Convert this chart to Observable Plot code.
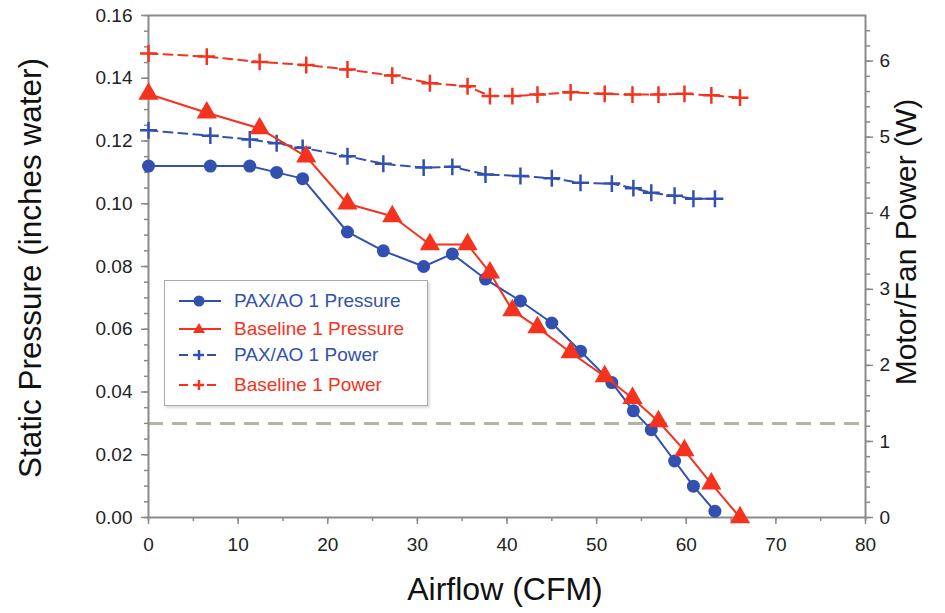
<!DOCTYPE html>
<html>
<head>
<meta charset="utf-8">
<script src="https://cdn.jsdelivr.net/npm/d3@7"></script>
<script src="https://cdn.jsdelivr.net/npm/@observablehq/plot@0.6"></script>
<style>
  html, body { margin: 0; padding: 0; background: #fff; }
  #wrap { position: relative; width: 945px; height: 613px; font-family: "Liberation Sans", Arial, sans-serif; }
  .ttl { position: absolute; color: #111; white-space: nowrap; font-size: 31px; }
  #legend { position: absolute; left: 164px; top: 280px; width: 262px; height: 124px; border: 1.5px solid #aaa; background: #fff; box-shadow: 2px 2px 2px #ddd; }
  .li { position: absolute; left: 12px; height: 22px; display: flex; align-items: center; font-size: 19px; }
  .li svg { margin-right: 11px; }
</style>
</head>
<body>
<div id="wrap"></div>
<script>
// Airflow (CFM)
const airflowPAX  = [0, 6.9, 11.3, 14.3, 17.2, 22.2, 26.2, 30.7, 33.9, 37.6, 41.5, 45.0, 48.2, 51.7, 54.1, 56.1, 58.7, 60.8, 63.2];
const pressurePAX = [0.112, 0.112, 0.112, 0.110, 0.108, 0.091, 0.085, 0.080, 0.084, 0.076, 0.069, 0.062, 0.053, 0.043, 0.034, 0.028, 0.018, 0.010, 0.002];
const powerPAX    = [5.09, 5.02, 4.97, 4.92, 4.86, 4.75, 4.65, 4.60, 4.61, 4.51, 4.49, 4.46, 4.40, 4.39, 4.33, 4.27, 4.23, 4.19, 4.19];

const airflowBase  = [0, 6.5, 12.4, 17.6, 22.2, 27.2, 31.4, 35.6, 38.1, 40.6, 43.4, 47.1, 50.9, 54.0, 56.9, 59.8, 62.8, 66.0];
const pressureBase = [0.135, 0.129, 0.124, 0.115, 0.100, 0.096, 0.087, 0.087, 0.078, 0.066, 0.0606, 0.0526, 0.045, 0.038, 0.0306, 0.0214, 0.0108, 0.000];
const powerBase    = [6.10, 6.06, 5.99, 5.95, 5.89, 5.81, 5.71, 5.67, 5.54, 5.54, 5.56, 5.59, 5.57, 5.56, 5.56, 5.57, 5.55, 5.52];

const refPressure = 0.03;
const xTicks = [0, 10, 20, 30, 40, 50, 60, 70, 80];
const yTicks = [0, 0.02, 0.04, 0.06, 0.08, 0.10, 0.12, 0.14, 0.16];
const wTicks = [0, 1, 2, 3, 4, 5, 6];

const seriesNames = ["PAX/AO 1 Pressure", "Baseline 1 Pressure", "PAX/AO 1 Power", "Baseline 1 Power"];
const BLUE = "#3150b0", RED = "#f4321e", AXIS = "#8a8a8a", TXT = "#222";

const yMax = 0.16, wMax = 6.6, k = yMax / wMax; // power -> pressure scale factor

const pax = airflowPAX.map((x, i) => ({x, p: pressurePAX[i], w: powerPAX[i] * k}));
const base = airflowBase.map((x, i) => ({x, p: pressureBase[i], w: powerBase[i] * k}));

const chart = Plot.plot({
  width: 945, height: 613,
  marginLeft: 148, marginRight: 80, marginTop: 15, marginBottom: 96,
  style: {fontFamily: "'Liberation Sans', Arial, sans-serif", fontSize: "19px", color: TXT, background: "#fff"},
  x: {domain: [0, 80]},
  y: {domain: [0, yMax]},
  marks: [
    Plot.ruleY([refPressure], {stroke: "#b4b4a6", strokeWidth: 3, strokeDasharray: "15,9"}),
    // minor ticks
    Plot.axisX({ticks: d3.range(0, 80.1, 5), tickSize: 4, text: null, stroke: AXIS, strokeWidth: 1.5, anchor: "bottom", label: null}),
    Plot.axisY({ticks: d3.range(0, 0.1601, 0.005), tickSize: 4, text: null, stroke: AXIS, strokeWidth: 1.5, anchor: "left", label: null}),
    Plot.axisY({ticks: d3.range(0, 6.51, 0.2).map(w => w * k), tickSize: 4, text: null, stroke: AXIS, strokeWidth: 1.5, anchor: "right", label: null}),
    // major ticks
    Plot.axisX({ticks: xTicks, tickSize: 7, tickPadding: 13, tickFormat: d => d, stroke: AXIS, strokeWidth: 1.5, fill: TXT, fontSize: 19, anchor: "bottom", label: null}),
    Plot.axisY({ticks: yTicks, tickSize: 7, tickPadding: 9, tickFormat: d3.format(".2f"), stroke: AXIS, strokeWidth: 1.5, fill: TXT, fontSize: 19, anchor: "left", label: null}),
    Plot.axisY({ticks: wTicks.map(w => w * k), tickSize: 7, tickPadding: 7, tickFormat: d => Math.round(d / k), stroke: AXIS, strokeWidth: 1.5, fill: TXT, fontSize: 19, anchor: "right", label: null}),
    Plot.frame({stroke: AXIS, strokeWidth: 2}),
    // power lines
    Plot.line(base, {x: "x", y: "w", stroke: RED, strokeWidth: 2, strokeDasharray: "9,6"}),
    Plot.dot(base, {x: "x", y: "w", symbol: "plus", stroke: RED, strokeWidth: 2.5, r: 5.5}),
    Plot.line(pax, {x: "x", y: "w", stroke: BLUE, strokeWidth: 2, strokeDasharray: "9,6"}),
    Plot.dot(pax, {x: "x", y: "w", symbol: "plus", stroke: BLUE, strokeWidth: 2.5, r: 5.5}),
    // pressure lines
    Plot.line(pax, {x: "x", y: "p", stroke: BLUE, strokeWidth: 2}),
    Plot.dot(pax, {x: "x", y: "p", symbol: "circle", fill: BLUE, r: 6.5}),
    Plot.line(base, {x: "x", y: "p", stroke: RED, strokeWidth: 2}),
    Plot.dot(base, {x: "x", y: "p", symbol: "triangle", fill: RED, r: 7.5})
  ]
});

const wrap = document.getElementById("wrap");
wrap.appendChild(chart);

function addText(txt, style) {
  const d = document.createElement("div");
  d.className = "ttl";
  d.textContent = txt;
  Object.assign(d.style, style);
  wrap.appendChild(d);
}
addText("Airflow (CFM)", {left: "0px", width: "1010px", textAlign: "center", top: "571px", fontSize: "32px"});
addText("Static Pressure (inches water)", {left: "30px", top: "268px", fontSize: "31.5px", transform: "translate(-50%,-50%) rotate(-90deg)"});
addText("Motor/Fan Power (W)", {left: "906px", top: "242px", fontSize: "30px", transform: "translate(-50%,-50%) rotate(-90deg)"});

// legend
const legend = document.createElement("div");
legend.id = "legend";
const sym = {
  0: `<circle cx="22" cy="11" r="5.5" fill="${BLUE}"/>`,
  1: `<path d="M22,5 L28,15 L16,15 Z" fill="${RED}"/>`,
  2: `<path d="M22,6 V16 M17,11 H27" stroke="${BLUE}" stroke-width="2.5"/>`,
  3: `<path d="M22,6 V16 M17,11 H27" stroke="${RED}" stroke-width="2.5"/>`
};
const tops = [9, 37, 63, 93];
seriesNames.forEach((name, i) => {
  const c = i % 2 === 0 ? BLUE : RED;
  const dash = i >= 2 ? `stroke-dasharray="9,5"` : "";
  const row = document.createElement("div");
  row.className = "li";
  row.style.top = tops[i] + "px";
  row.innerHTML = `<svg width="46" height="22"><line x1="2" y1="11" x2="44" y2="11" stroke="${c}" stroke-width="2" ${dash}/>${sym[i]}</svg><span style="color:${c}">${name}</span>`;
  legend.appendChild(row);
});
wrap.appendChild(legend);
</script>
</body>
</html>
